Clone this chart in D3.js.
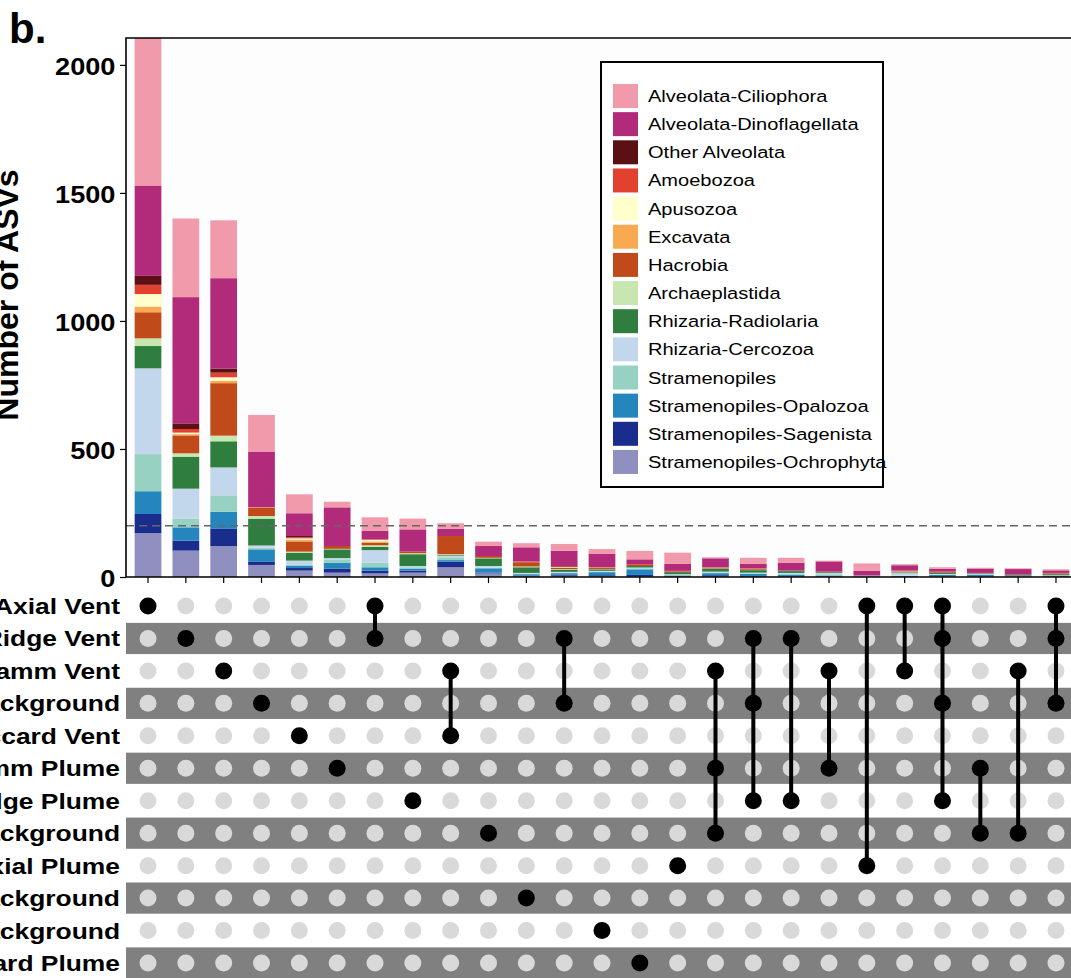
<!DOCTYPE html>
<html>
<head>
<meta charset="utf-8">
<script src="https://cdn.jsdelivr.net/npm/d3@7"></script>
<style>
  body { margin: 0; background: #fff; }
  svg { display: block; font-family: "Liberation Sans", Arial, Helvetica, sans-serif; }
</style>
</head>
<body>
<div id="chart"></div>
<script>
// legend order (top of stack first)
const taxa = [
  "Alveolata-Ciliophora", "Alveolata-Dinoflagellata", "Other Alveolata", "Amoebozoa",
  "Apusozoa", "Excavata", "Hacrobia", "Archaeplastida", "Rhizaria-Radiolaria",
  "Rhizaria-Cercozoa", "Stramenopiles", "Stramenopiles-Opalozoa",
  "Stramenopiles-Sagenista", "Stramenopiles-Ochrophyta"
];
const taxaColors = [
  "#f09aab", "#b22b7b", "#5a1015", "#e3412f", "#ffffcc", "#f9aa50", "#c04a1a",
  "#c7e6b0", "#2f7e3f", "#c3d7ec", "#97d1c2", "#2586bd", "#1a2d8c", "#8f8fc0"
];

// number of ASVs per intersection (25 columns), one array per taxon
const ciliophora     = [601,307,226,143,74,22,52,42,21,17,16,26,19,33,44,4,24,19,3,28,4,6,3,3,4];
const dinoflagellata = [353,493,353,218,89,151,34,87,29,39,56,60,52,19,27,35,17,31,40,19,21,11,17,22,10];
const otherAlveolata = [35,22,16,0,5,0,0,0,0,0,0,2,0,0,0,0,0,0,0,0,0,0,0,0,0];
const amoebozoa      = [36,14,18,0,4,0,2,0,0,0,0,2,1,3,2,1,2,0,0,0,1,2,1,0,2];
const apusozoa       = [49,6,13,0,5,0,6,0,0,0,0,1,0,0,0,0,0,0,0,0,1,0,0,0,0];
const excavata       = [22,5,10,2,7,0,5,0,0,0,2,2,2,0,0,1,1,0,0,0,1,0,0,0,0];
const hacrobia       = [102,70,205,32,40,11,10,6,71,7,17,5,4,4,3,3,3,2,2,0,3,3,1,0,3];
const archaeplastida = [30,13,22,10,4,2,6,4,4,2,3,2,1,0,0,1,1,0,0,0,1,0,0,0,0];
const radiolaria     = [87,125,102,105,31,34,13,46,3,30,22,9,6,6,8,11,10,7,3,1,3,4,2,4,4];
const cercozoa       = [335,117,109,9,17,5,49,5,5,6,3,3,3,3,3,3,3,4,5,1,10,2,1,1,1];
const stramenopiles  = [145,34,64,6,4,13,18,5,11,3,2,2,2,4,2,3,2,3,5,1,1,2,3,1,1];
const opalozoa       = [89,52,67,49,8,23,13,8,6,17,5,6,12,22,1,8,8,5,3,1,2,5,6,2,3];
const sagenista      = [75,39,67,12,10,16,11,8,22,3,2,4,4,6,3,5,2,2,1,0,1,1,1,0,1];
const ochrophyta     = [171,103,121,47,25,17,14,17,38,14,4,5,3,2,2,2,2,2,2,2,1,2,1,1,1];

const setNames = [
  "Axial Vent", "Gorda Ridge Vent", "Von Damm Vent", "Gorda Ridge Background",
  "Piccard Vent", "Von Damm Plume", "Gorda Ridge Plume", "Mid-Cayman Background",
  "Axial Plume", "Axial Background", "Deep Background", "Piccard Plume"
];

// sets taking part in each intersection column
const intersections = [
  ["Axial Vent"], ["Gorda Ridge Vent"], ["Von Damm Vent"], ["Gorda Ridge Background"],
  ["Piccard Vent"], ["Von Damm Plume"], ["Axial Vent", "Gorda Ridge Vent"],
  ["Gorda Ridge Plume"], ["Von Damm Vent", "Piccard Vent"], ["Mid-Cayman Background"],
  ["Axial Background"], ["Gorda Ridge Vent", "Gorda Ridge Background"],
  ["Deep Background"], ["Piccard Plume"], ["Axial Plume"],
  ["Von Damm Vent", "Von Damm Plume", "Mid-Cayman Background"],
  ["Gorda Ridge Vent", "Gorda Ridge Background", "Gorda Ridge Plume"],
  ["Gorda Ridge Vent", "Gorda Ridge Plume"], ["Von Damm Vent", "Von Damm Plume"],
  ["Axial Vent", "Axial Plume"], ["Axial Vent", "Von Damm Vent"],
  ["Axial Vent", "Gorda Ridge Vent", "Gorda Ridge Background", "Gorda Ridge Plume"],
  ["Von Damm Plume", "Mid-Cayman Background"], ["Von Damm Vent", "Mid-Cayman Background"],
  ["Axial Vent", "Gorda Ridge Vent", "Gorda Ridge Background"]
];

const yTicks = [0, 500, 1000, 1500, 2000];
const cutoff = 200;

const seriesByTaxon = [ciliophora, dinoflagellata, otherAlveolata, amoebozoa, apusozoa,
  excavata, hacrobia, archaeplastida, radiolaria, cercozoa, stramenopiles, opalozoa,
  sagenista, ochrophyta];

const table = intersections.map((s, i) => {
  const row = { id: i };
  taxa.forEach((t, k) => row[t] = seriesByTaxon[k][i]);
  return row;
});

const W = 1071, H = 978;
const STRETCH = 1.18; // figure text is slightly wide
const plotLeft = 126, plotTop = 38, plotBottom = 577;

const svg = d3.select("#chart").append("svg")
  .attr("width", W)
  .attr("height", H);

function wideText(g, x, y, str, size, anchor, weight, stretch) {
  return g.append("text")
    .attr("transform", `translate(${x},${y}) scale(${stretch || STRETCH},1)`)
    .attr("text-anchor", anchor)
    .style("font-size", size + "px")
    .style("font-weight", weight)
    .text(str);
}

const xScale = d3.scaleBand()
  .domain(d3.range(intersections.length))
  .range([129.1, 1074.9])
  .paddingInner(0.294)
  .paddingOuter(0.147);

const yScale = d3.scaleLinear()
  .domain([0, 2105])
  .range([plotBottom, plotTop]);

// panel
svg.append("rect")
  .attr("x", plotLeft).attr("y", plotTop)
  .attr("width", W + 20 - plotLeft).attr("height", plotBottom - plotTop)
  .attr("fill", "#fdfdfd");

svg.append("clipPath").attr("id", "clip")
  .append("rect")
  .attr("x", plotLeft).attr("y", plotTop)
  .attr("width", W + 20 - plotLeft).attr("height", plotBottom - plotTop);

const stacked = d3.stack().keys(taxa.slice().reverse())(table);
const colorOf = d3.scaleOrdinal().domain(taxa).range(taxaColors);

svg.append("g").attr("clip-path", "url(#clip)")
  .selectAll("g")
  .data(stacked)
  .join("g")
  .attr("fill", d => colorOf(d.key))
  .selectAll("rect")
  .data(d => d.filter(p => p[1] > p[0]))
  .join("rect")
  .attr("x", d => xScale(d.data.id))
  .attr("y", d => yScale(d[1]))
  .attr("width", xScale.bandwidth())
  .attr("height", d => yScale(d[0]) - yScale(d[1]));

// cutoff line
svg.append("line")
  .attr("x1", plotLeft).attr("x2", W)
  .attr("y1", yScale(cutoff)).attr("y2", yScale(cutoff))
  .attr("stroke", "#666")
  .attr("stroke-width", 1.5)
  .attr("stroke-dasharray", "8,5");

// axes
const yAxis = svg.append("g")
  .attr("transform", `translate(${plotLeft},0)`)
  .call(d3.axisLeft(yScale).tickValues(yTicks).tickFormat(d3.format("d"))
    .tickSize(6).tickPadding(3).tickSizeOuter(0));
yAxis.select(".domain").remove();
yAxis.selectAll("line").attr("stroke", "#000").attr("stroke-width", 1.2);
yAxis.selectAll("text")
  .attr("transform", `scale(${STRETCH},1)`)
  .attr("dy", "0.42em")
  .attr("fill", "#000")
  .style("font-size", "23px")
  .style("font-weight", "bold")
  .style("font-family", "'Liberation Sans', Arial, sans-serif");

const xAxis = svg.append("g")
  .attr("transform", `translate(0,${plotBottom})`)
  .call(d3.axisBottom(xScale).tickSize(6).tickFormat("").tickSizeOuter(0));
xAxis.select(".domain").remove();
xAxis.selectAll("line").attr("stroke", "#000").attr("stroke-width", 1.2);

// panel border
svg.append("path")
  .attr("d", `M${W + 5},${plotTop}H${plotLeft}V${plotBottom}H${W + 5}`)
  .attr("fill", "none")
  .attr("stroke", "#000")
  .attr("stroke-width", 1.6);

svg.append("text")
  .attr("transform", `translate(18,295) rotate(-90)`)
  .attr("text-anchor", "middle")
  .style("font-size", "32px")
  .style("font-weight", "bold")
  .text("Number of ASVs");

svg.append("text")
  .attr("x", 9).attr("y", 43)
  .style("font-size", "42px")
  .style("font-weight", "bold")
  .text("b.");

// legend
const legend = svg.append("g");
legend.append("rect")
  .attr("x", 601).attr("y", 62)
  .attr("width", 282).attr("height", 425)
  .attr("fill", "#fff")
  .attr("stroke", "#000")
  .attr("stroke-width", 2);
taxa.forEach((t, i) => {
  const cy = 96 + i * 28.15;
  legend.append("rect")
    .attr("x", 613).attr("y", cy - 12)
    .attr("width", 25).attr("height", 24)
    .attr("fill", colorOf(t));
  wideText(legend, 648, cy + 6, t, 17, "start", "normal");
});

// matrix
const rowY = d3.scalePoint().domain(setNames).range([606, 963]);
const matrix = svg.append("g");

matrix.selectAll(".band")
  .data(setNames.filter((s, i) => i % 2 === 1))
  .join("rect")
  .attr("class", "band")
  .attr("x", plotLeft)
  .attr("y", d => rowY(d) - 15.6)
  .attr("width", W - plotLeft)
  .attr("height", 31.2)
  .attr("fill", "#808080");

setNames.forEach(s => {
  wideText(matrix, 120, rowY(s) + 8, s, 22, "end", "bold", 1.2);
});

const cx = i => xScale(i) + xScale.bandwidth() / 2;

intersections.forEach((sets, i) => {
  setNames.forEach(s => {
    matrix.append("circle")
      .attr("cx", cx(i))
      .attr("cy", rowY(s))
      .attr("r", 8.5)
      .attr("fill", sets.includes(s) ? "#000" : "#d9d9d9");
  });
  if (sets.length > 1) {
    const ys = sets.map(s => rowY(s));
    matrix.append("line")
      .attr("x1", cx(i)).attr("x2", cx(i))
      .attr("y1", d3.min(ys)).attr("y2", d3.max(ys))
      .attr("stroke", "#000")
      .attr("stroke-width", 4);
  }
});
</script>
</body>
</html>
